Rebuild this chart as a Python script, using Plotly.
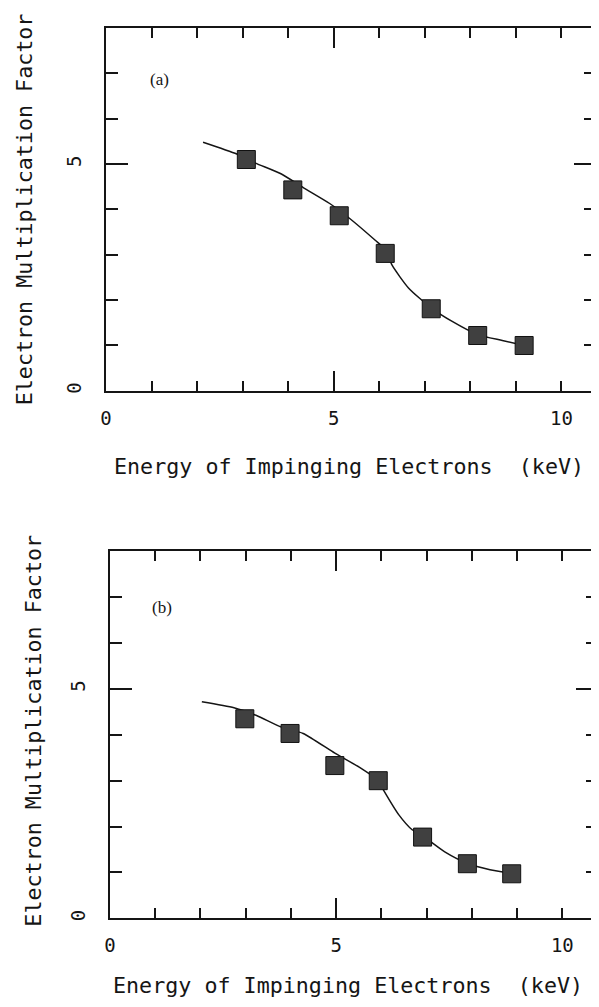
import plotly.graph_objects as go

# ---------------- Data ----------------
# Panel (a)
a_energy = [3.08, 4.10, 5.12, 6.13, 7.14, 8.16, 9.18]
a_factor = [5.10, 4.43, 3.86, 3.03, 1.81, 1.22, 1.00]
a_fit_energy = [2.13, 2.87, 3.28, 3.85, 4.33, 4.91, 5.35, 5.91, 6.13, 6.28, 6.64, 7.14, 7.60, 8.16, 8.70, 9.18]
a_fit_factor = [5.48, 5.22, 5.02, 4.78, 4.48, 4.13, 3.80, 3.32, 3.12, 2.77, 2.27, 1.83, 1.53, 1.24, 1.11, 1.00]

# Panel (b)
b_energy = [2.98, 3.98, 4.97, 5.93, 6.91, 7.90, 8.88]
b_factor = [4.35, 4.03, 3.33, 3.00, 1.77, 1.19, 0.97]
b_fit_energy = [2.03, 2.74, 3.24, 3.76, 4.27, 4.97, 5.50, 5.93, 6.02, 6.39, 6.68, 6.91, 7.40, 7.90, 8.40, 8.88]
b_fit_factor = [4.72, 4.59, 4.42, 4.18, 4.03, 3.60, 3.30, 3.00, 2.84, 2.25, 1.93, 1.80, 1.45, 1.20, 1.06, 0.98]

x_tick_vals = [0, 5, 10]
x_tick_text = ["0", "5", "10"]
y_tick_vals = [0, 5]
y_tick_text = ["0", "5"]

x_title = "Energy of Impinging Electrons  (keV)"
y_title = "Electron Multiplication Factor"
panel_labels = ["(a)", "(b)"]

# ---------------- Styles ----------------
INK = "#151515"
MONO = "DejaVu Sans Mono, Liberation Mono, monospace"
SERIF = "Liberation Serif, DejaVu Serif, serif"

marker_style = dict(symbol="square", size=18, color="#404040",
                    line=dict(color="#111111", width=1))
line_style = dict(color=INK, width=1.5, shape="spline", smoothing=0.6)

fig = go.Figure()

# Panel (a)
fig.add_trace(go.Scatter(x=a_fit_energy, y=a_fit_factor, mode="lines",
                         line=line_style, xaxis="x", yaxis="y", hoverinfo="skip"))
fig.add_trace(go.Scatter(x=a_energy, y=a_factor, mode="markers",
                         marker=marker_style, xaxis="x", yaxis="y"))
# Panel (b)
fig.add_trace(go.Scatter(x=b_fit_energy, y=b_fit_factor, mode="lines",
                         line=line_style, xaxis="x2", yaxis="y2", hoverinfo="skip"))
fig.add_trace(go.Scatter(x=b_energy, y=b_factor, mode="markers",
                         marker=marker_style, xaxis="x2", yaxis="y2"))
# label-only axes
fig.add_trace(go.Scatter(x=[], y=[], xaxis="x3", yaxis="y3", showlegend=False))
fig.add_trace(go.Scatter(x=[], y=[], xaxis="x4", yaxis="y4", showlegend=False))

W, H = 599, 1007
OFF = 8  # page body margin offset


def px(v):
    return (v - OFF) / W


def py(v):
    return 1 - (v - OFF) / H


def tick_axis(domain, rng, major, anchor, majorlen, minorlen):
    return dict(domain=domain, range=rng, anchor=anchor,
                showline=True, linecolor=INK, linewidth=2, mirror="allticks",
                ticks="inside", tickmode="array", tickvals=major,
                ticklen=majorlen, tickwidth=1.5, tickcolor=INK,
                showticklabels=False, showgrid=False, zeroline=False,
                minor=dict(ticks="inside", tickmode="linear", tick0=0, dtick=1,
                           ticklen=minorlen, tickwidth=1.5, tickcolor=INK,
                           showgrid=False))


def label_axis(over, anchor, rng, vals, text, side, standoff, angle=0):
    return dict(overlaying=over, anchor=anchor, range=rng, side=side,
                tickmode="array", tickvals=vals, ticktext=text,
                ticks="outside", ticklen=standoff, tickcolor="rgba(0,0,0,0)",
                tickangle=angle,
                showline=False, showgrid=False, zeroline=False,
                tickfont=dict(family=MONO, size=19, color=INK))


a_xdom = [px(101), px(596)]
a_ydom = [py(392), py(28)]
b_xdom = [px(105), px(598)]
b_ydom = [py(921), py(553)]
a_xr = [0, 10.76]
b_xr = [0, 10.79]
yr = [0, 8]

fig.update_layout(
    width=W, height=H,
    margin=dict(l=0, r=0, t=0, b=0),
    paper_bgcolor="white", plot_bgcolor="white",
    showlegend=False,
    xaxis=tick_axis(a_xdom, a_xr, [5], "y", 20, 10),
    yaxis=tick_axis(a_ydom, yr, [5], "x", 22, 12),
    xaxis2=tick_axis(b_xdom, b_xr, [5], "y2", 20, 10),
    yaxis2=tick_axis(b_ydom, yr, [5], "x2", 22, 12),
    xaxis3=label_axis("x", "y", a_xr, x_tick_vals, x_tick_text, "bottom", 10),
    yaxis3=label_axis("y", "x", yr, y_tick_vals, y_tick_text, "left", 16, -90),
    xaxis4=label_axis("x2", "y2", b_xr, x_tick_vals, x_tick_text, "bottom", 10),
    yaxis4=label_axis("y2", "x2", yr, y_tick_vals, y_tick_text, "left", 16, -90),
)


def ann(text, x, y, xref, yref, font, angle=0):
    return dict(text=text, x=x, y=y, xref=xref, yref=yref, showarrow=False,
                xanchor="center", yanchor="middle", textangle=angle, font=font)


title_font = dict(family=MONO, size=21.7, color=INK)
label_font = dict(family=SERIF, size=17, color=INK)
annotations = [
    ann(panel_labels[0], 1.17, 6.86, "x", "y", label_font),
    ann(panel_labels[1], 1.16, 6.77, "x2", "y2", label_font),
    ann(x_title, px(346), py(468), "paper", "paper", title_font),
    ann(x_title, px(345), py(988), "paper", "paper", title_font),
    ann(y_title, px(19), py(210), "paper", "paper", title_font, -90),
    ann(y_title, px(28), py(733), "paper", "paper", title_font, -90),
]
fig.update_layout(annotations=annotations)

fig.write_html("out.html")
